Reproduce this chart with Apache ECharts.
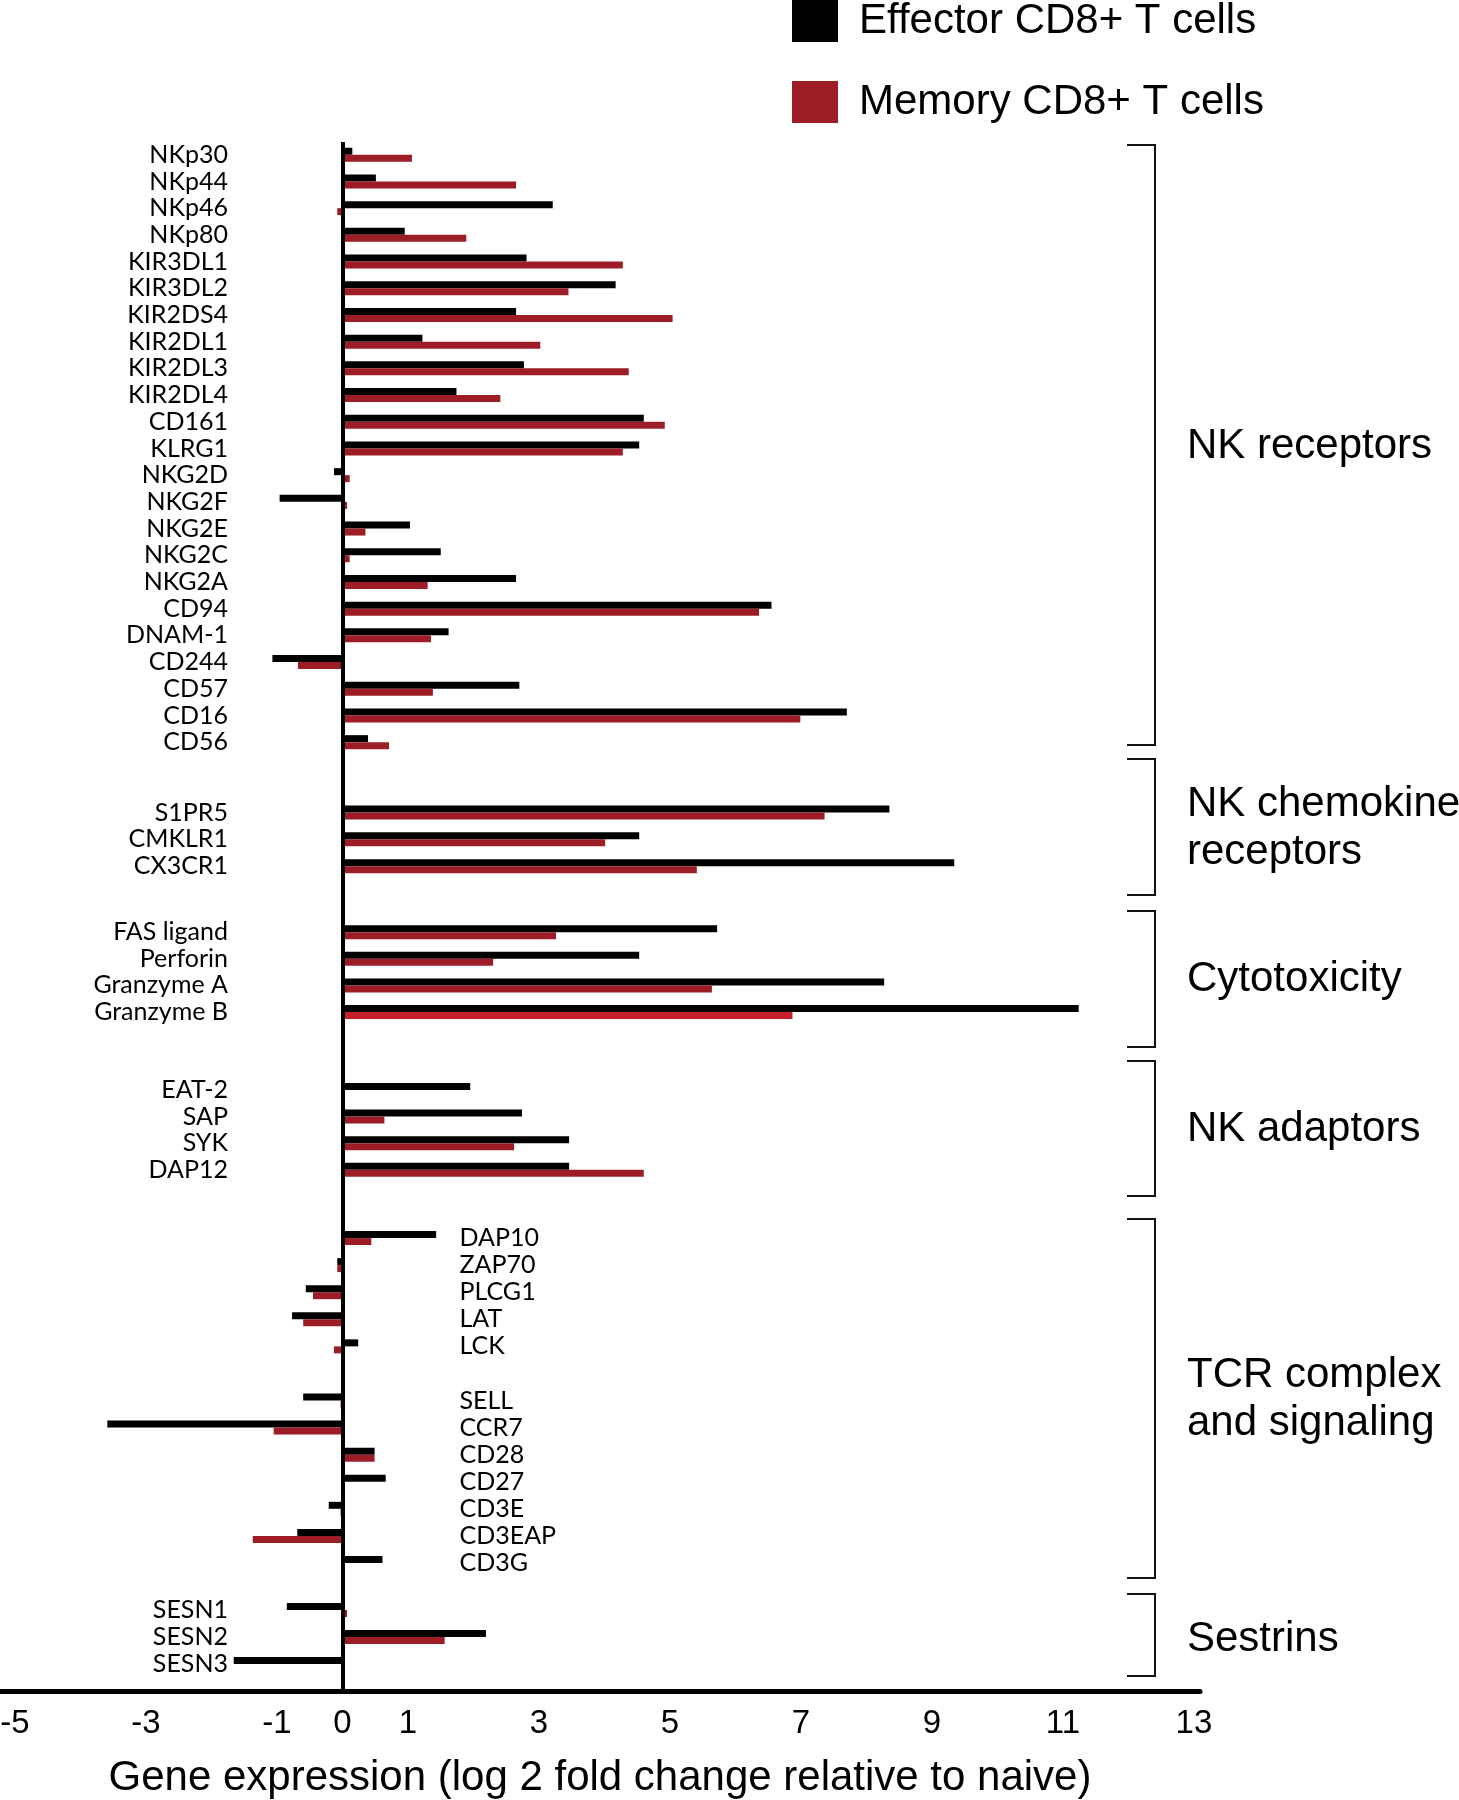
<!DOCTYPE html>
<html><head><meta charset="utf-8">
<script src="https://cdn.jsdelivr.net/npm/echarts@6/dist/echarts.min.js"></script>
<style>html,body{margin:0;padding:0;background:#fff}#chart{width:1459px;height:1800px}</style>
</head><body><div id="chart"></div>
<script>
// ---------------- DATA ----------------
const seriesNames = ['Effector CD8+ T cells', 'Memory CD8+ T cells'];

const nkReceptorGenes = ['NKp30','NKp44','NKp46','NKp80','KIR3DL1','KIR3DL2','KIR2DS4','KIR2DL1','KIR2DL3','KIR2DL4','CD161','KLRG1','NKG2D','NKG2F','NKG2E','NKG2C','NKG2A','CD94','DNAM-1','CD244','CD57','CD16','CD56'];
const nkReceptorEffector = [0.15,0.51,3.21,0.95,2.81,4.17,2.65,1.22,2.77,1.74,4.60,4.53,-0.13,-0.96,1.03,1.50,2.65,6.55,1.62,-1.07,2.70,7.70,0.39];
const nkReceptorMemory   = [1.06,2.65,-0.08,1.89,4.28,3.45,5.04,3.02,4.37,2.41,4.92,4.28,0.11,0.07,0.35,0.11,1.30,6.36,1.35,-0.68,1.38,6.99,0.71];

const chemokineGenes = ['S1PR5','CMKLR1','CX3CR1'];
const chemokineEffector = [8.35,4.53,9.34];
const chemokineMemory   = [7.36,4.01,5.41];

const cytotoxGenes = ['FAS ligand','Perforin','Granzyme A','Granzyme B'];
const cytotoxEffector = [5.72,4.53,8.27,11.24];
const cytotoxMemory   = [3.26,2.30,5.64,6.87];

const adaptorGenes = ['EAT-2','SAP','SYK','DAP12'];
const adaptorEffector = [1.95,2.74,3.46,3.46];
const adaptorMemory   = [0,0.64,2.62,4.60];

const tcrGenes = ['DAP10','ZAP70','PLCG1','LAT','LCK','','SELL','CCR7','CD28','CD27','CD3E','CD3EAP','CD3G'];
const tcrEffector = [1.43,-0.08,-0.56,-0.77,0.24,null,-0.60,-3.59,0.49,0.66,-0.21,-0.69,0.61];
const tcrMemory   = [0.44,-0.08,-0.45,-0.60,-0.13,null,-0.03,-1.05,0.49,0.03,-0.03,-1.37,0];

const sestrinGenes = ['SESN1','SESN2','SESN3'];
const sestrinEffector = [-0.85,2.19,-1.66];
const sestrinMemory   = [0.07,1.56,0];

const xTickValues = [-5,-3,-1,0,1,3,5,7,9,11,13];
const groupNames = ['NK receptors','NK chemokine\nreceptors','Cytotoxicity','NK adaptors','TCR complex\nand signaling','Sestrins'];
const xAxisTitle = 'Gene expression (log 2 fold change relative to naive)';

// ---------------- LAYOUT / STYLE ----------------
const SANS = '"Liberation Sans", Arial, Helvetica, sans-serif';
const LABEL_FONT = 'Lato, Calibri, "Noto Sans", sans-serif';
const BLACK = '#000000';
const RED = '#9d1d27';
const RED_BRIGHT = '#c4202a';
const X_MIN = -5.229, X_MAX = 13.092;
const PLOT_LEFT = 0, PLOT_WIDTH = 1200;

const groups = [
  {genes: nkReceptorGenes, eff: nkReceptorEffector, mem: nkReceptorMemory, top: 141.4, height: 614.1, inside: false},
  {genes: chemokineGenes, eff: chemokineEffector, mem: chemokineMemory, top: 799.1, height: 80.5, inside: false},
  {genes: cytotoxGenes, eff: cytotoxEffector, mem: cytotoxMemory, top: 918.9, height: 106.4, inside: false},
  {genes: adaptorGenes, eff: adaptorEffector, mem: adaptorMemory, top: 1076.7, height: 106.4, inside: false},
  {genes: tcrGenes, eff: tcrEffector, mem: tcrMemory, top: 1224.5, height: 352, inside: true},
  {genes: sestrinGenes, eff: sestrinEffector, mem: sestrinMemory, top: 1596.5, height: 81, inside: false}
];
const brackets = [[145,745],[759,895],[911,1047],[1061,1196],[1219,1578],[1594,1676]];
const groupLabelY = [446, 828, 979, 1129, 1399, 1639];

// ---------------- BUILD ----------------
const gridBase = {left: PLOT_LEFT, width: PLOT_WIDTH, containLabel: false, outerBoundsMode: 'none'};
const grid = [Object.assign({top: 142, height: 1549}, gridBase)];
const xAxis = [{
  gridIndex: 0, type: 'value', min: X_MIN, max: X_MAX, position: 'bottom',
  axisLine: {show: true, onZero: false, lineStyle: {color: BLACK, width: 5}},
  axisTick: {show: false}, splitLine: {show: false},
  axisLabel: {customValues: xTickValues, fontSize: 33, color: BLACK, fontFamily: SANS, margin: 16},
  name: xAxisTitle, nameLocation: 'middle', nameGap: 66,
  nameTextStyle: {fontSize: 42, color: BLACK, fontFamily: SANS}
}];
const yAxis = [{gridIndex: 0, type: 'value', min: 0, max: 1, show: false}];
const series = [{
  type: 'scatter', xAxisIndex: 0, yAxisIndex: 0, data: [], silent: true,
  markLine: {silent: true, symbol: 'none', animation: false, label: {show: false},
    lineStyle: {color: BLACK, width: 4, type: 'solid'}, data: [{xAxis: 0}]}
}];

groups.forEach((g, i) => {
  const gi = i + 1;
  grid.push(Object.assign({top: g.top, height: g.height}, gridBase));
  xAxis.push({gridIndex: gi, type: 'value', min: X_MIN, max: X_MAX, show: false});
  yAxis.push({
    gridIndex: gi, type: 'category', data: g.genes, inverse: true, position: 'left',
    axisLine: {show: false, onZero: false},
    axisTick: {show: false}, splitLine: {show: false},
    axisLabel: {interval: 0, inside: g.inside, margin: g.inside ? 459.5 : -228,
      fontSize: 25, color: BLACK, fontFamily: LABEL_FONT}
  });
  series.push({
    name: seriesNames[0], type: 'bar', xAxisIndex: gi, yAxisIndex: gi,
    data: g.eff, barWidth: 7, barGap: '0%', itemStyle: {color: BLACK}, animation: false
  });
  series.push({
    name: seriesNames[1], type: 'bar', xAxisIndex: gi, yAxisIndex: gi,
    data: g.mem.map((v, k) => (g.genes[k] === 'Granzyme B' ? {value: v, itemStyle: {color: RED_BRIGHT}} : v)),
    barWidth: 7, barGap: '0%', itemStyle: {color: RED}, animation: false
  });
});

const graphic = [];
brackets.forEach((b, i) => {
  graphic.push({type: 'polyline', silent: true,
    shape: {points: [[1127, b[0]], [1155, b[0]], [1155, b[1]], [1127, b[1]]]},
    style: {stroke: '#111', lineWidth: 2, fill: null}});
  graphic.push({type: 'text', silent: true, x: 1187, y: groupLabelY[i],
    style: {text: groupNames[i], font: '42px ' + SANS, fill: BLACK, verticalAlign: 'middle', lineHeight: 48}});
});

const chart = echarts.init(document.getElementById('chart'), null, {renderer: 'canvas'});
chart.setOption({
  animation: false,
  backgroundColor: '#ffffff',
  legend: {
    data: seriesNames, orient: 'vertical', left: 792, top: 0, padding: 0,
    itemWidth: 46, itemHeight: 42, itemGap: 39, icon: 'rect', selectedMode: false,
    textStyle: {fontSize: 42, color: BLACK, fontFamily: SANS, lineHeight: 42, padding: [0, 0, 0, 16]}
  },
  grid, xAxis, yAxis, series, graphic
});
</script></body></html>
